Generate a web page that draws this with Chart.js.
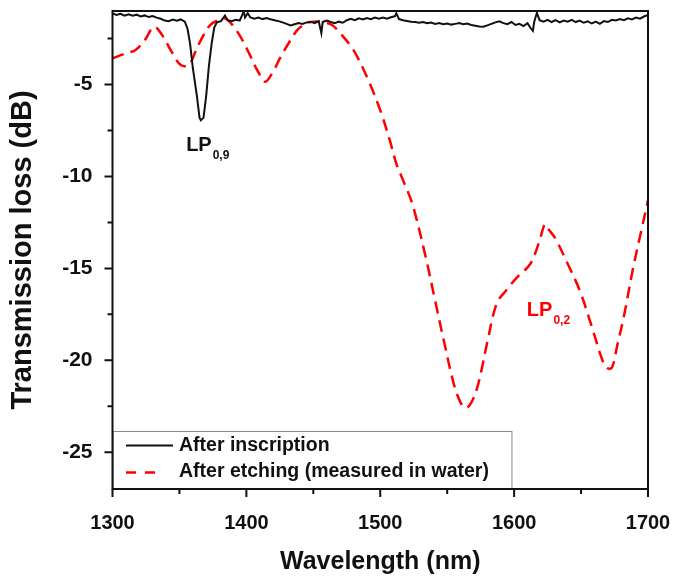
<!DOCTYPE html>
<html>
<head>
<meta charset="utf-8">
<script src="https://cdn.jsdelivr.net/npm/chart.js@4/dist/chart.umd.min.js"></script>
<style>
html,body{margin:0;padding:0;background:#fff;}
canvas{display:block;}
</style>
</head>
<body>
<canvas id="grafico" width="675" height="578"></canvas>
<script>
// After inscription (black solid)
const inscricaoNm = [1300,1303,1306,1309,1312,1315,1318,1321,1324,1327,1330,1333,1336,1339,1342,1345,1348,1351,1354,1356,1358,1360,1362,1363,1365,1366,1368,1370,1372,1374,1376,1378,1381,1384,1386,1389,1392,1395,1397,1398,1399,1401,1403,1406,1409,1412,1415,1418,1421,1424,1427,1430,1433,1436,1439,1442,1445,1448,1451,1454,1456,1457,1460,1463,1466,1469,1472,1475,1478,1481,1484,1487,1490,1493,1496,1499,1502,1505,1508,1511,1512,1514,1517,1520,1523,1526,1529,1532,1535,1538,1541,1544,1547,1550,1553,1556,1559,1562,1565,1568,1571,1574,1577,1580,1583,1586,1589,1592,1595,1598,1601,1604,1607,1610,1612,1614,1615,1617,1619,1622,1625,1628,1631,1634,1637,1640,1643,1646,1649,1652,1655,1658,1661,1664,1667,1670,1673,1676,1679,1682,1685,1688,1691,1694,1697,1700];
const inscricaoDb = [-1.13,-1.22,-1.15,-1.25,-1.18,-1.26,-1.20,-1.30,-1.24,-1.33,-1.27,-1.36,-1.42,-1.52,-1.56,-1.47,-1.53,-1.46,-1.58,-1.95,-2.8,-4.1,-5.1,-5.6,-6.8,-6.95,-6.8,-5.6,-4.0,-2.8,-1.9,-1.62,-1.55,-1.25,-1.5,-1.55,-1.48,-1.52,-1.2,-1.0,-1.35,-1.12,-1.35,-1.42,-1.36,-1.44,-1.38,-1.45,-1.50,-1.55,-1.62,-1.70,-1.78,-1.72,-1.66,-1.70,-1.62,-1.58,-1.66,-1.55,-2.2,-1.6,-1.52,-1.6,-1.66,-1.58,-1.64,-1.5,-1.42,-1.5,-1.4,-1.46,-1.38,-1.45,-1.36,-1.42,-1.36,-1.42,-1.34,-1.28,-1.12,-1.44,-1.5,-1.54,-1.58,-1.6,-1.64,-1.6,-1.67,-1.63,-1.7,-1.66,-1.72,-1.68,-1.74,-1.7,-1.66,-1.72,-1.68,-1.76,-1.8,-1.84,-1.86,-1.78,-1.7,-1.62,-1.56,-1.66,-1.72,-1.6,-1.76,-1.7,-1.82,-1.66,-1.9,-2.08,-1.6,-1.1,-1.5,-1.58,-1.48,-1.6,-1.5,-1.62,-1.52,-1.58,-1.48,-1.6,-1.52,-1.64,-1.56,-1.68,-1.58,-1.7,-1.55,-1.6,-1.48,-1.52,-1.44,-1.5,-1.4,-1.46,-1.36,-1.42,-1.3,-1.22];

// After etching, measured in water (red dashed)
const gravacaoNm = [1300,1310,1317,1324,1331,1337,1344,1351,1357,1362,1366,1373,1379,1384,1390,1396,1402,1408,1414,1420,1425,1432,1438,1444,1450,1458,1464,1470,1480,1490,1500,1507,1512,1517,1524,1534,1541,1548,1555,1560,1564,1568,1572,1576,1580,1587,1594,1602,1612,1619,1623,1626,1631,1639,1649,1659,1665,1669,1673,1677,1682,1689,1695,1700];
const gravacaoDb = [-3.58,-3.3,-3.13,-2.6,-1.86,-2.3,-3.2,-3.94,-3.94,-3.2,-2.58,-1.76,-1.5,-1.4,-1.8,-2.45,-3.3,-4.2,-4.85,-4.3,-3.58,-2.7,-2.04,-1.7,-1.58,-1.62,-1.76,-2.2,-3.13,-4.58,-6.4,-8.0,-9.3,-10.2,-11.5,-14.4,-16.76,-19.1,-21.3,-22.3,-22.6,-22.3,-21.6,-20.4,-19.0,-16.9,-16.2,-15.5,-14.76,-13.5,-12.6,-12.9,-13.4,-14.6,-16.2,-18.4,-19.8,-20.4,-20.4,-19.2,-17.6,-14.94,-12.94,-11.3];

const xTicks = [1300,1400,1500,1600,1700];
const xMinor = [1350,1450,1550,1650];
const yTicks = [-25,-20,-15,-10,-5];
const yMinor = [-22.5,-17.5,-12.5,-7.5,-2.5];
const legendas = ["After inscription","After etching (measured in water)"];

const fonte = "'Liberation Sans', Arial, sans-serif";
const vermelho = "#ff0000";

function pares(xs, ys) { return xs.map((v,i)=>({x:v, y:ys[i]})); }

function rotuloLP(ctx, x, y, sub, cor) {
  ctx.fillStyle = cor;
  ctx.textAlign = "left";
  ctx.textBaseline = "alphabetic";
  ctx.font = "bold 20px " + fonte;
  ctx.fillText("LP", x, y);
  const w = ctx.measureText("LP").width;
  ctx.font = "bold 12px " + fonte;
  ctx.fillText(sub, x + w + 1, y + 8);
}

const moldura = {
  id: "moldura",
  afterDatasetsDraw(chart) {
    const {ctx, chartArea: a, scales: {x, y}} = chart;
    ctx.save();
    // caixa da legenda
    const bx2 = x.getPixelForValue(1598), by1 = a.bottom - 58;
    ctx.fillStyle = "#fff";
    ctx.fillRect(a.left, by1, bx2 - a.left, a.bottom - by1);
    ctx.strokeStyle = "#8c8c8c"; ctx.lineWidth = 1;
    ctx.strokeRect(a.left + 0.5, by1 + 0.5, bx2 - a.left, a.bottom - by1);
    ctx.lineWidth = 2; ctx.strokeStyle = "#111";
    ctx.beginPath(); ctx.moveTo(126, by1 + 14.5); ctx.lineTo(173, by1 + 14.5); ctx.stroke();
    ctx.strokeStyle = vermelho; ctx.lineWidth = 2.5; ctx.setLineDash([10,9]);
    ctx.beginPath(); ctx.moveTo(126, by1 + 41.5); ctx.lineTo(157, by1 + 41.5); ctx.stroke();
    ctx.setLineDash([]);
    ctx.fillStyle = "#111"; ctx.font = "bold 19.5px " + fonte;
    ctx.textAlign = "left"; ctx.textBaseline = "middle";
    ctx.fillText(legendas[0], 179, by1 + 14.5);
    ctx.fillText(legendas[1], 179, by1 + 41);
    // rotulos dos modos
    rotuloLP(ctx, x.getPixelForValue(1355), y.getPixelForValue(-8.6), "0,9", "#111");
    rotuloLP(ctx, x.getPixelForValue(1609.5), y.getPixelForValue(-17.6), "0,2", vermelho);
    ctx.restore();
  },
  afterDraw(chart) {
    const {ctx, chartArea: a, scales: {x, y}} = chart;
    ctx.save();
    ctx.strokeStyle = "#111"; ctx.lineWidth = 2;
    ctx.strokeRect(a.left, a.top, a.width, a.height);
    ctx.beginPath();
    xTicks.forEach(v => { const p = x.getPixelForValue(v); ctx.moveTo(p, a.bottom); ctx.lineTo(p, a.bottom + 8); });
    xMinor.forEach(v => { const p = x.getPixelForValue(v); ctx.moveTo(p, a.bottom); ctx.lineTo(p, a.bottom + 5); });
    yTicks.forEach(v => { const p = y.getPixelForValue(v); ctx.moveTo(a.left, p); ctx.lineTo(a.left - 8, p); });
    yMinor.forEach(v => { const p = y.getPixelForValue(v); ctx.moveTo(a.left, p); ctx.lineTo(a.left - 5, p); });
    ctx.stroke();
    ctx.restore();
  }
};

const chart = new Chart(document.getElementById("grafico"), {
  type: "line",
  data: {
    datasets: [
      { label: legendas[0], data: pares(inscricaoNm, inscricaoDb), borderColor: "#111", borderWidth: 2, pointRadius: 0, tension: 0 },
      { label: legendas[1], data: pares(gravacaoNm, gravacaoDb), borderColor: vermelho, borderWidth: 2.5, borderDash: [12,7], pointRadius: 0, tension: 0.35 }
    ]
  },
  options: {
    responsive: false,
    animation: false,
    layout: { padding: { top: 11, right: 27, left: 0, bottom: 0 } },
    plugins: { legend: { display: false }, tooltip: { enabled: false } },
    scales: {
      x: {
        type: "linear", min: 1300, max: 1700,
        afterBuildTicks: s => { s.ticks = xTicks.map(v => ({value: v})); },
        afterFit: s => { s.height = 89; s.paddingLeft = 0; s.paddingRight = 0; },
        grid: { display: false }, border: { display: false },
        ticks: { color: "#111", padding: 14, maxRotation: 0, font: { family: fonte, size: 20, weight: "bold" }, callback: v => v },
        title: { display: true, text: "Wavelength (nm)", color: "#111", padding: { top: 0, bottom: 1 }, font: { family: fonte, size: 25, weight: "bold" } }
      },
      y: {
        type: "linear", min: -27, max: -1,
        afterBuildTicks: s => { s.ticks = yTicks.map(v => ({value: v})); },
        afterFit: s => { s.width = 112.5; s.paddingTop = 0; s.paddingBottom = 0; },
        grid: { display: false }, border: { display: false },
        ticks: { color: "#111", padding: 12, font: { family: fonte, size: 21, weight: "bold" }, callback: v => v },
        title: { display: true, text: "Transmission loss (dB)", color: "#111", padding: { top: 6, bottom: 0 }, font: { family: fonte, size: 29, weight: "bold" } }
      }
    }
  },
  plugins: [moldura]
});
</script>
</body>
</html>
